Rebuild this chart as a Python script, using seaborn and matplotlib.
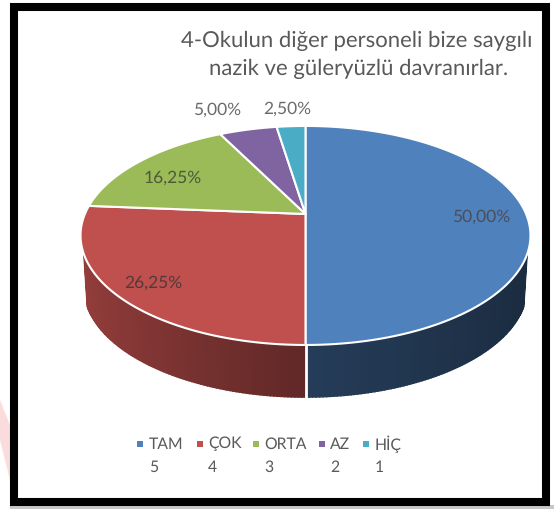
import numpy as np
import matplotlib
matplotlib.use("Agg")
import matplotlib.pyplot as plt
from matplotlib.patches import Rectangle
import seaborn as sns

# veriler
categories = ["TAM", "ÇOK", "ORTA", "AZ", "HİÇ"]
scores = ["5", "4", "3", "2", "1"]
percents = [50.00, 26.25, 16.25, 5.00, 2.50]
slice_colors = ["#4F81BD", "#C0504D", "#9BBB59", "#8064A2", "#4BACC6"]
title_lines = ["4-Okulun diğer personeli bize saygılı", "nazik ve güleryüzlü davranırlar."]

sns.set_theme(style="white")
plt.rcParams["font.family"] = ["Lato", "DejaVu Sans"]
plt.rcParams["text.hinting"] = "none"
palette = sns.color_palette(slice_colors)

fig = plt.figure(figsize=(5.54, 5.09), dpi=100)
ax = fig.add_axes([0, 0, 1, 1])
ax.set_xlim(0, 554)
ax.set_ylim(509, 0)
ax.axis("off")

# cerceve
ax.add_patch(Rectangle((10, 505), 544, 4, fc="#c8c8c8", ec="none", zorder=0))
ax.fill([0, 10, 10, 0], [400, 425, 480, 440], fc="#fbdcdc", ec="none", zorder=0)
ax.add_patch(Rectangle((14, 7), 532, 495, fc="white", ec="black", lw=5.8, zorder=1))

# perspektifli pasta
hub_x, hub_y = 305.5, 214
k, rx, ry = 0.196, 220.6, 105.3
depth = 52


def rim(deg, r=1.0):
    t = np.radians(deg)
    u, v = r * np.sin(t), r * np.cos(t)
    return hub_x + rx * u / (1 + k * v), hub_y - ry * v / (1 + k * v)


def bottom(deg):
    x, y = rim(deg)
    return hub_x + (x - hub_x) * 0.985, y + depth


edges = np.concatenate([[0], np.cumsum(percents)]) * 3.6

# yan yuzey
for i, col in enumerate(palette):
    angs = np.arange(edges[i], edges[i + 1] + 0.01, 0.75)
    for a, b in zip(angs[:-1], angs[1:]):
        x1, y1 = rim(a)
        x2, y2 = rim(b)
        if min(y1, y2) < 254:
            continue
        u = np.sin(np.radians((a + b) / 2))
        shade = 0.5 - 0.28 * u if u < 0 else 0.47 - 0.14 * u
        c = tuple(np.array(col) * shade)
        x3, y3 = bottom(b)
        x4, y4 = bottom(a)
        ax.fill([x1, x2, x3, x4], [y1, y2, y3, y4], color=c, lw=1.2, zorder=2)

# dilimler arasi beyaz cizgi
for e in edges[1:-1]:
    x1, y1 = rim(e)
    if y1 > 254:
        x2, y2 = bottom(e)
        ax.plot([x1, x2], [y1, y2 + 1], color="white", lw=2, zorder=3)

# ust yuzey
for i, col in enumerate(palette):
    angs = np.linspace(edges[i], edges[i + 1], 150)
    xs, ys = rim(angs)
    ax.fill(np.r_[hub_x, xs], np.r_[hub_y, ys], fc=col, ec="white", lw=1.5,
            joinstyle="round", zorder=4)

# yuzde etiketleri
label_pos = [(481, 217), (153, 283), (173, 178), (217, 110), (287, 109)]
label_cols = ["#4a4f5c", "#54393a", "#4c5a38", "#6b6b6b", "#6b6b6b"]
for p, pos, c in zip(percents, label_pos, label_cols):
    ax.text(pos[0], pos[1], f"{p:.2f}%".replace(".", ","), color=c, fontsize=12.5,
            ha="center", va="center", zorder=5)

# baslik
ax.text(357, 41, title_lines[0], color="#595959", fontsize=15.9, ha="center", va="center", zorder=5)
ax.text(359, 69, title_lines[1], color="#595959", fontsize=15.9, ha="center", va="center", zorder=5)

# lejant
legend_x = [140, 200, 256, 322, 366]
text_x = [149, 208, 264, 330, 375]
sns.scatterplot(x=legend_x, y=[444] * 5, hue=categories, palette=palette, marker="s", s=22,
                linewidth=0, legend=False, ax=ax, zorder=5)
ax.set_xlim(0, 554)
ax.set_ylim(509, 0)
ax.axis("off")
for tx, cat, sc in zip(text_x, categories, scores):
    ax.text(tx, 444, cat, color="#595959", fontsize=11.3, ha="left", va="center", zorder=5)
    ax.text(tx, 467, sc, color="#595959", fontsize=11.3, ha="left", va="center", zorder=5)

fig.savefig("out.png", dpi=100)
